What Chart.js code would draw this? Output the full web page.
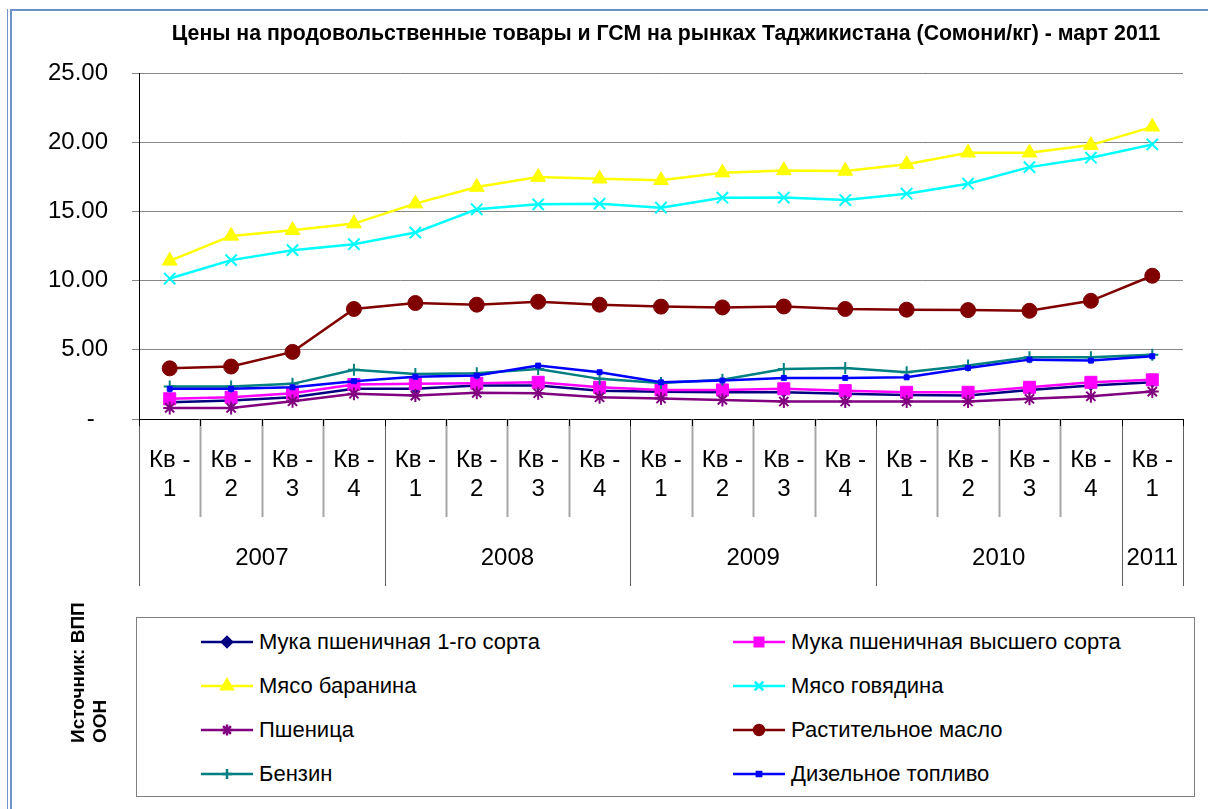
<!DOCTYPE html>
<html>
<head>
<meta charset="utf-8">
<script src="https://cdn.jsdelivr.net/npm/chart.js@4/dist/chart.umd.min.js"></script>
<style>
  body { margin: 0; background: #fff; font-family: 'Liberation Sans', Arial, sans-serif; }
  #page { position: relative; width: 1208px; height: 809px; overflow: hidden; }
  #frameOuter { position: absolute; left: 7px; top: 9px; width: 1300px; height: 900px; border-left: 1px solid #7196c9; }
  #frameInner { position: absolute; left: 10px; top: 9px; width: 1300px; height: 900px; border-left: 2px solid #6d93c6; border-top: 2px solid #6d93c6; }
  #chart { position: absolute; left: 0; top: 0; }
  #title { position: absolute; left: 166px; top: 21px; width: 1000px; text-align: center; white-space: nowrap;
           font-weight: bold; font-size: 21.3px; color: #000; }
  #source { position: absolute; left: 19px; top: 651px; width: 140px; height: 44px; line-height: 22px;
            font-weight: bold; font-size: 19px; transform: rotate(-90deg); white-space: nowrap; }
  #legend { position: absolute; left: 136px; top: 617px; width: 1057px; height: 178px; border: 1px solid #808080; background: #fff; }
  .item { position: absolute; height: 30px; display: flex; align-items: center; font-size: 22px; white-space: nowrap; }
  .item canvas { margin-right: 6px; }
</style>
</head>
<body>
<div id="page">
  <div id="frameOuter"></div>
  <div id="frameInner"></div>
  <canvas id="chart" width="1208" height="809"></canvas>
  <div id="title">Цены на продовольственные товары и ГСМ на рынках Таджикистана (Сомони/кг) - март 2011</div>
  <div id="source">Источник: ВПП<br>ООН</div>
  <div id="legend"></div>
</div>
<script>
// --- dados ---
const quarters = ['Кв - 1', 'Кв - 2', 'Кв - 3', 'Кв - 4', 'Кв - 1', 'Кв - 2', 'Кв - 3', 'Кв - 4',
                  'Кв - 1', 'Кв - 2', 'Кв - 3', 'Кв - 4', 'Кв - 1', 'Кв - 2', 'Кв - 3', 'Кв - 4', 'Кв - 1'];
const years = ['2007', '2007', '2007', '2007', '2008', '2008', '2008', '2008',
               '2009', '2009', '2009', '2009', '2010', '2010', '2010', '2010', '2011'];
const yTicks = [0, 5, 10, 15, 20, 25];

const mukaPervyi  = [1.21, 1.33, 1.57, 2.18, 2.18, 2.42, 2.42, 2.05, 1.96, 1.93, 1.93, 1.82, 1.74, 1.69, 2.10, 2.42, 2.65];
const mukaVysshii = [1.46, 1.57, 1.86, 2.49, 2.54, 2.58, 2.65, 2.29, 2.10, 2.10, 2.18, 2.05, 1.93, 1.93, 2.29, 2.65, 2.83];
const baranina    = [11.43, 13.23, 13.64, 14.12, 15.56, 16.76, 17.48, 17.36, 17.25, 17.80, 17.96, 17.92, 18.40, 19.24, 19.24, 19.79, 21.11];
const govyadina   = [10.15, 11.48, 12.20, 12.63, 13.47, 15.15, 15.51, 15.56, 15.27, 15.99, 16.00, 15.82, 16.28, 17.00, 18.20, 18.88, 19.84];
const pshenitsa   = [0.80, 0.80, 1.28, 1.82, 1.69, 1.89, 1.86, 1.57, 1.48, 1.38, 1.26, 1.26, 1.26, 1.26, 1.46, 1.64, 1.98];
const maslo       = [3.66, 3.79, 4.85, 7.95, 8.38, 8.26, 8.47, 8.26, 8.12, 8.06, 8.13, 7.95, 7.90, 7.87, 7.82, 8.54, 10.35];
const benzin      = [2.34, 2.34, 2.54, 3.55, 3.26, 3.30, 3.62, 2.90, 2.60, 2.83, 3.62, 3.69, 3.37, 3.86, 4.46, 4.46, 4.65];
const dizel       = [2.18, 2.18, 2.29, 2.73, 3.06, 3.14, 3.86, 3.38, 2.65, 2.78, 2.97, 2.97, 3.01, 3.69, 4.29, 4.22, 4.53];

const FONT = "'Liberation Sans', Arial, sans-serif";

// series: nome, dados, cor, marcador (lr = tamanho na legenda)
const series = [
    { label: 'Мука пшеничная 1-го сорта', data: mukaPervyi, color: '#000080', style: 'rectRot', r: 5, lr: 5, bw: 1 },
    { label: 'Мука пшеничная высшего сорта', data: mukaVysshii, color: '#FF00FF', style: 'rect', r: 8.5, lr: 6, bw: 1 },
    { label: 'Мясо баранина', data: baranina, color: '#FFFF00', style: 'triangle', r: 8.5, lr: 6.5, bw: 1 },
    { label: 'Мясо говядина', data: govyadina, color: '#00FFFF', style: 'crossRot', r: 8, lr: 6, bw: 2 },
    { label: 'Пшеница', data: pshenitsa, color: '#800080', style: 'star', r: 6.5, lr: 5.5, bw: 2 },
    { label: 'Растительное масло', data: maslo, color: '#800000', style: 'circle', r: 7.5, lr: 5, bw: 1 },
    { label: 'Бензин', data: benzin, color: '#008080', style: 'cross', r: 6, lr: 5, bw: 2 },
    { label: 'Дизельное топливо', data: dizel, color: '#0000FF', style: 'rect', r: 3.5, lr: 3, bw: 1 }
];

// linhas das colunas de ano e trimestre abaixo do eixo
const yearRowsPlugin = {
    id: 'yearRows',
    afterDraw(chart) {
        const xs = chart.scales.x;
        const ctx = chart.ctx;
        const top = chart.chartArea.bottom;
        const half = (xs.getPixelForValue(1) - xs.getPixelForValue(0)) / 2;
        const n = quarters.length;
        ctx.save();
        for (let i = 0; i <= n; i++) {
            const x = Math.round(i < n ? xs.getPixelForValue(i) - half : xs.getPixelForValue(n - 1) + half) + 0.5;
            const isYear = i === 0 || i === n || years[i] !== years[i - 1];
            ctx.beginPath();
            if (isYear) {
                ctx.strokeStyle = '#606060';
                ctx.lineWidth = 1;
                ctx.moveTo(x, top);
                ctx.lineTo(x, top + 167);
            } else {
                ctx.strokeStyle = '#a6a6a6';
                ctx.lineWidth = 2;
                ctx.moveTo(x, top);
                ctx.lineTo(x, top + 98);
            }
            ctx.stroke();
            ctx.beginPath();
            ctx.strokeStyle = '#000';
            ctx.lineWidth = 1;
            ctx.moveTo(x, top);
            ctx.lineTo(x, top + 7);
            ctx.stroke();
        }
        // rótulos dos anos
        ctx.fillStyle = '#000';
        ctx.font = '24px ' + FONT;
        ctx.textAlign = 'center';
        ctx.textBaseline = 'middle';
        let start = 0;
        for (let i = 1; i <= n; i++) {
            if (i === n || years[i] !== years[start]) {
                const x0 = xs.getPixelForValue(start) - half;
                const x1 = xs.getPixelForValue(i - 1) + half;
                ctx.fillText(years[start], (x0 + x1) / 2, top + 139);
                start = i;
            }
        }
        ctx.restore();
    }
};

new Chart(document.getElementById('chart'), {
    type: 'line',
    data: {
        labels: quarters,
        datasets: series.map((s, i) => ({
            label: s.label,
            data: s.data,
            borderColor: s.color,
            backgroundColor: s.color,
            borderWidth: 2.5,
            pointStyle: s.style,
            pointRadius: s.r,
            pointBorderWidth: s.bw,
            pointBorderColor: s.color,
            pointBackgroundColor: s.color,
            tension: 0,
            order: series.length - i // o último fica por cima, como no Excel
        }))
    },
    options: {
        responsive: false,
        animation: false,
        layout: { padding: { left: 0, top: 73, right: 25, bottom: 290 } },
        plugins: { legend: { display: false }, tooltip: { enabled: false } },
        scales: {
            x: {
                offset: true,
                grid: { display: false, drawTicks: false },
                border: { display: true, color: '#000', width: 1 },
                afterFit: (scale) => { scale.height = 100; },
                ticks: {
                    autoSkip: false,
                    maxRotation: 0,
                    padding: 27,
                    color: '#000',
                    font: { family: FONT, size: 24, lineHeight: 1.2 },
                    callback: function (value, index) {
                        const lbl = quarters[index];
                        const k = lbl.lastIndexOf(' ');
                        return [lbl.slice(0, k), lbl.slice(k + 1)];
                    }
                }
            },
            y: {
                min: 0,
                max: 25,
                afterFit: (scale) => { scale.width = 139; },
                afterBuildTicks: (scale) => { scale.ticks = yTicks.map(v => ({ value: v })); },
                grid: { color: '#878787', lineWidth: 1, tickLength: 7 },
                border: { display: true, color: '#000', width: 1 },
                ticks: {
                    padding: 24,
                    color: '#000',
                    font: { family: FONT, size: 24 },
                    callback: (v) => v === 0 ? '-  ' : v.toFixed(2)
                }
            }
        }
    },
    plugins: [yearRowsPlugin]
});

// --- legenda em HTML, duas colunas ---
function drawMarker(c, s) {
    const ctx = c.getContext('2d');
    ctx.strokeStyle = s.color;
    ctx.lineWidth = 2.5;
    ctx.beginPath();
    ctx.moveTo(0, 15);
    ctx.lineTo(c.width, 15);
    ctx.stroke();
    const opts = { pointStyle: s.style, radius: s.lr, borderWidth: s.bw, rotation: 0 };
    ctx.fillStyle = s.color;
    Chart.helpers.drawPoint(ctx, opts, c.width / 2, 15);
}

const legend = document.getElementById('legend');
series.forEach((s, i) => {
    const col = i % 2, row = Math.floor(i / 2);
    const item = document.createElement('div');
    item.className = 'item';
    item.style.left = (col === 0 ? 64 : 596) + 'px';
    item.style.top = (9 + row * 44) + 'px';
    const c = document.createElement('canvas');
    c.width = 52; c.height = 30;
    item.appendChild(c);
    const t = document.createElement('span');
    t.textContent = s.label;
    item.appendChild(t);
    legend.appendChild(item);
    drawMarker(c, s);
});
</script>
</body>
</html>
